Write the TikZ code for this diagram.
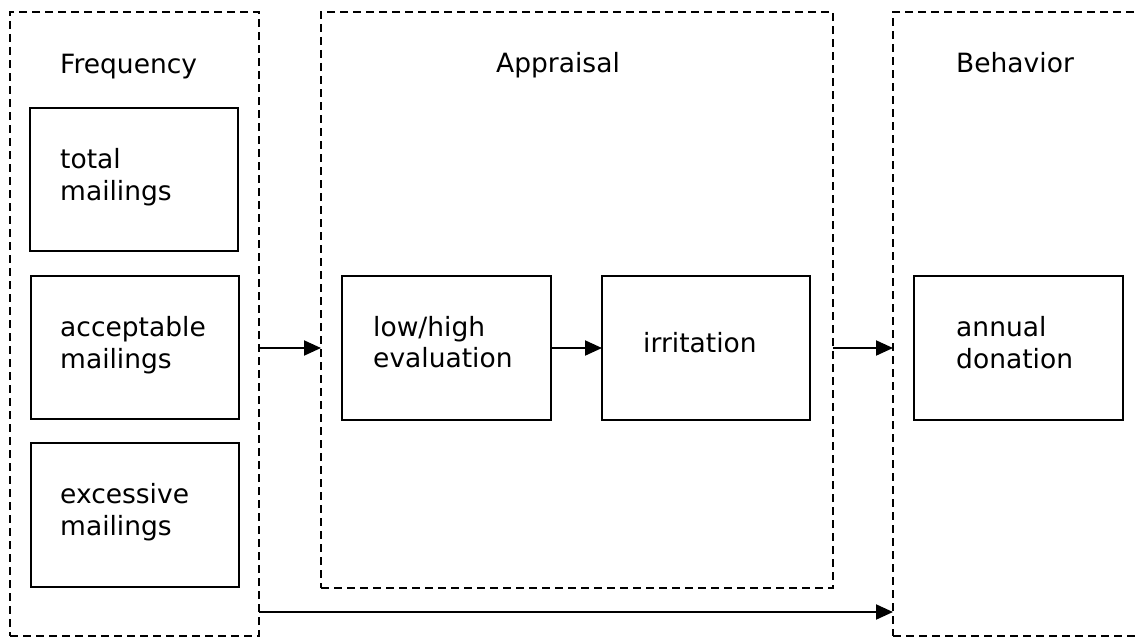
\documentclass[tikz,border=0pt]{standalone}
\usepackage{fontspec}
\setmainfont{DejaVu Sans}
\usetikzlibrary{arrows.meta}
\begin{document}
\begin{tikzpicture}[x=1pt,y=-1pt,
  group/.style={draw, line width=2pt, dash pattern=on 8pt off 5pt,
    outer sep=0pt, inner sep=0pt},
  item/.style={draw, line width=2pt, outer sep=0pt, inner sep=0pt,
    minimum width=208pt, minimum height=143pt},
  txt/.style={anchor=base west, inner sep=0pt, text width=200pt, align=left,
    font=\fontsize{26.5}{32}\selectfont},
  flow/.style={line width=2pt, -{Triangle[length=17pt,width=15pt]}}]
\useasboundingbox (0,0) rectangle (1139,637);
\clip (0,0) rectangle (1139,637);

% dashed stage frames
\node[group, minimum width=249pt, minimum height=624pt] (freq) at (134.5,324) {};
\node[group, minimum width=512pt, minimum height=576pt] (appr) at (577,300) {};
\node[group, minimum width=270pt, minimum height=624pt] (beh) at (1028,324) {};

% stage titles
\node[txt] (tfreq) at (60,73) {Frequency};
\node[txt] (tappr) at (496,72) {Appraisal};
\node[txt] (tbeh) at (956,72) {Behavior};

% variable boxes
\node[item] (tot) at (134,179.5) {};
\node[item] (acc) at (134.5,347.5) {};
\node[item, minimum height=144pt] (exc) at (134.5,515) {};
\node[item, minimum width=209pt, minimum height=144pt] (lh) at (446.5,348) {};
\node[item, minimum width=208pt, minimum height=144pt] (irr) at (706,348) {};
\node[item, minimum width=209pt, minimum height=144pt] (ann) at (1018.5,348) {};

% box texts
\node[txt] (ltot) at (60,168) {total\\mailings};
\node[txt] (lacc) at (60,336) {acceptable\\mailings};
\node[txt] (lexc) at (60,503) {excessive\\mailings};
\node[txt, font=\fontsize{26.5}{31}\selectfont] (llh) at (373,336) {low/high\\evaluation};
\node[txt] (lirr) at (643,352) {irritation};
\node[txt] (lann) at (956,336) {annual\\donation};

% connectors
\coordinate (direct) at (0,612);
\draw[flow] (freq.east |- lh.center) -- (appr.west |- lh.center);
\draw[flow] (lh.east) -- (irr.west);
\draw[flow] (appr.east |- irr.center) -- (beh.west |- irr.center);
\draw[flow] (freq.east |- direct) -- (beh.west |- direct);
\end{tikzpicture}
\end{document}
